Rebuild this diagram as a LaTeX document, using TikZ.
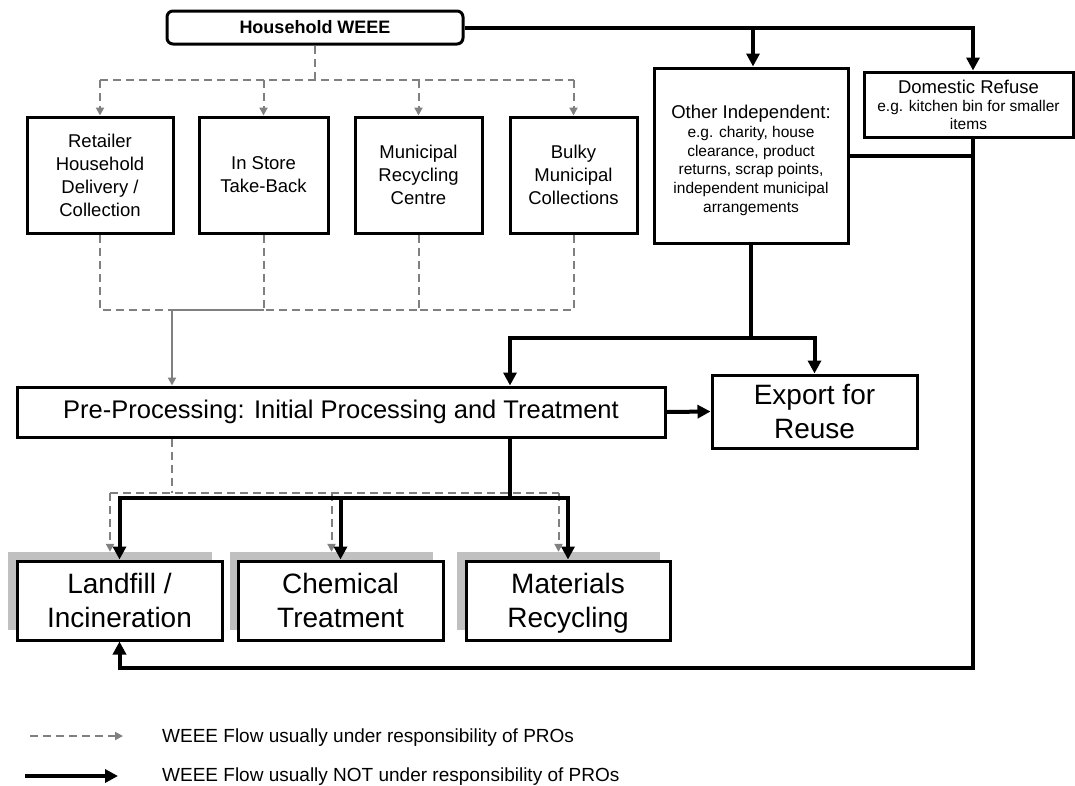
\documentclass[tikz,border=0pt]{standalone}
\usepackage{fontspec}
\setmainfont{Liberation Sans}
\usetikzlibrary{arrows.meta}
\definecolor{flowgray}{HTML}{808080}
\definecolor{shadegray}{HTML}{C0C0C0}
\begin{document}
\begin{tikzpicture}[x=1pt,y=-1pt,
  box/.style={draw=black,line width=3pt,fill=white,inner sep=0pt,align=center},
  shadebox/.style={fill=shadegray,draw=none,inner sep=0pt},
  dflow/.style={draw=flowgray,line width=2pt,dash pattern=on 8pt off 5pt},
  sflow/.style={draw=flowgray,line width=2pt},
  dtip/.style={-{Triangle[length=8pt,width=8pt]}},
  bflow/.style={draw=black,line width=4pt},
  btip/.style={-{Triangle[length=13pt,width=13pt]}},
  fmid/.style={font=\fontsize{18.5}{23}\selectfont},
  fbig/.style={font=\fontsize{28}{34}\selectfont},
  fleg/.style={font=\fontsize{19}{23}\selectfont},
  ]
\useasboundingbox (0,0) rectangle (1075,785);

% ---------- nodes ----------
\node[box,rounded corners=6pt,minimum width=296pt,minimum height=33pt,
      font=\bfseries\fontsize{18}{21}\selectfont] (hh) at (315,27.5) {Household WEEE};

\node[box,fmid,minimum width=146pt,minimum height=116pt] (ret) at (100,175)
  {Retailer\\Household\\Delivery /\\Collection};
\node[box,fmid,minimum width=129pt,minimum height=116pt] (ins) at (263.5,175)
  {In Store\\Take-Back};
\node[box,fmid,minimum width=127pt,minimum height=116pt] (mun) at (418.5,175)
  {Municipal\\Recycling\\Centre};
\node[box,fmid,minimum width=127pt,minimum height=116pt] (bul) at (573.5,175)
  {Bulky\\Municipal\\Collections};

\node[box,minimum width=194pt,minimum height=175pt,
      font=\fontsize{15.5}{18.7}\selectfont] (oth) at (751,155.5)
  {{\fontsize{18.5}{18.7}\selectfont\rule{0pt}{23.5pt}Other Independent:}\\e.g. charity, house\\clearance, product\\returns, scrap points,\\independent municipal\\arrangements};

\node[box,minimum width=209pt,minimum height=65pt,
      font=\fontsize{15.5}{18}\selectfont] (dom) at (968.5,104.5)
  {{\fontsize{18.5}{19}\selectfont Domestic Refuse}\\e.g. kitchen bin for smaller\\items};

\node[box,minimum width=648pt,minimum height=50pt,
      font=\fontsize{25.5}{30}\selectfont] (pre) at (341,412)
  {Pre-Processing: Initial Processing and Treatment};

\node[box,fbig,minimum width=205pt,minimum height=73pt] (exp) at (814.5,411.5)
  {Export for\\Reuse};

% shadows of the bottom boxes
\node[shadebox,minimum width=204pt,minimum height=78pt] (lansh) at (110,591) {};
\node[shadebox,minimum width=203pt,minimum height=78pt] (chesh) at (331.5,591) {};
\node[shadebox,minimum width=203pt,minimum height=78pt] (matsh) at (558.5,591) {};

\node[box,fbig,minimum width=205pt,minimum height=79pt] (lan) at (119.5,600.5)
  {Landfill /\\Incineration};
\node[box,fbig,minimum width=205pt,minimum height=79pt] (che) at (340.5,600.5)
  {Chemical\\Treatment};
\node[box,fbig,minimum width=204pt,minimum height=79pt] (mat) at (568,600.5)
  {Materials\\\smash{Recycling}};

% ---------- coordinates ----------
\coordinate (dtop) at (315,80);
\coordinate (bm) at (172,310);
\coordinate (dm) at (172,493);
\coordinate (dl) at (110,493);
\coordinate (dr) at (558.5,493);
\coordinate (t1) at (753,28);
\coordinate (t2) at (973,28);
\coordinate (o1) at (751,338);
\coordinate (p1) at (510,338);
\coordinate (q) at (510,498);
\coordinate (rb) at (973,668);

% ---------- dashed (PRO) flows ----------
\draw[dflow] (hh.south) -- (dtop);
\draw[dflow] (ret.north |- dtop) -- (bul.north |- dtop);
\foreach \n in {ret,ins,mun,bul}{
  \draw[dflow,dtip] (\n.north |- dtop) -- (\n.north);
}
\draw[dflow] (ret.south) -- (ret.south |- bm) -- (bm);
\draw[sflow] (bm) -- (ins.south |- bm);
\draw[dflow] (ins.south) -- (ins.south |- bm) -- (mun.south |- bm);
\draw[dflow] (mun.south) -- (mun.south |- bm);
\draw[dflow] (bul.south) -- (bul.south |- bm) -- (mun.south |- bm);
\draw[sflow,dtip] (bm) -- (bm |- pre.north);

\draw[dflow] (dm |- pre.south) -- (dm);
\draw[dflow] (dl) -- (dr);
\draw[dflow,dtip] (dl) -- (lansh.north);
\draw[dflow,dtip] (chesh.north |- dl) -- (chesh.north);
\draw[dflow,dtip] (dr) -- (matsh.north);

% ---------- thick (non-PRO) flows ----------
\draw[bflow,btip] (hh.east |- t2) -- (t2) -- (t2 |- dom.north);
\draw[bflow,btip] (t1) -- (t1 |- oth.north);
\draw[bflow] (oth.east) -- (oth.east -| t2);
\draw[bflow,btip] (t2 |- dom.south) -- (rb) -- (lan.south |- rb) -- (lan.south);

\draw[bflow,btip] (oth.south) -- (o1) -| (exp.north);
\draw[bflow,btip] (o1) -- (p1) -- (p1 |- pre.north);
\draw[bflow,btip] (pre.east) -- (exp.west);

\draw[bflow] (q |- pre.south) -- (q);
\draw[bflow,btip] (q) -| (lan.north);
\draw[bflow,btip] (q) -| (mat.north);
\draw[bflow,btip] (che.north |- q) -- (che.north);

% ---------- legend ----------
\coordinate (l1s) at (30,736);
\coordinate (l1e) at (123,736);
\coordinate (l2s) at (25,776);
\coordinate (l2e) at (118,776);
\draw[dflow,dtip] (l1s) -- (l1e);
\draw[bflow,btip] (l2s) -- (l2e);
\node[fleg,anchor=base west,inner sep=0pt] (lt1) at (162,742)
  {WEEE Flow usually under responsibility of PROs};
\node[fleg,anchor=base west,inner sep=0pt] (lt2) at (162,781)
  {WEEE Flow usually NOT under responsibility of PROs};
\end{tikzpicture}
\end{document}
